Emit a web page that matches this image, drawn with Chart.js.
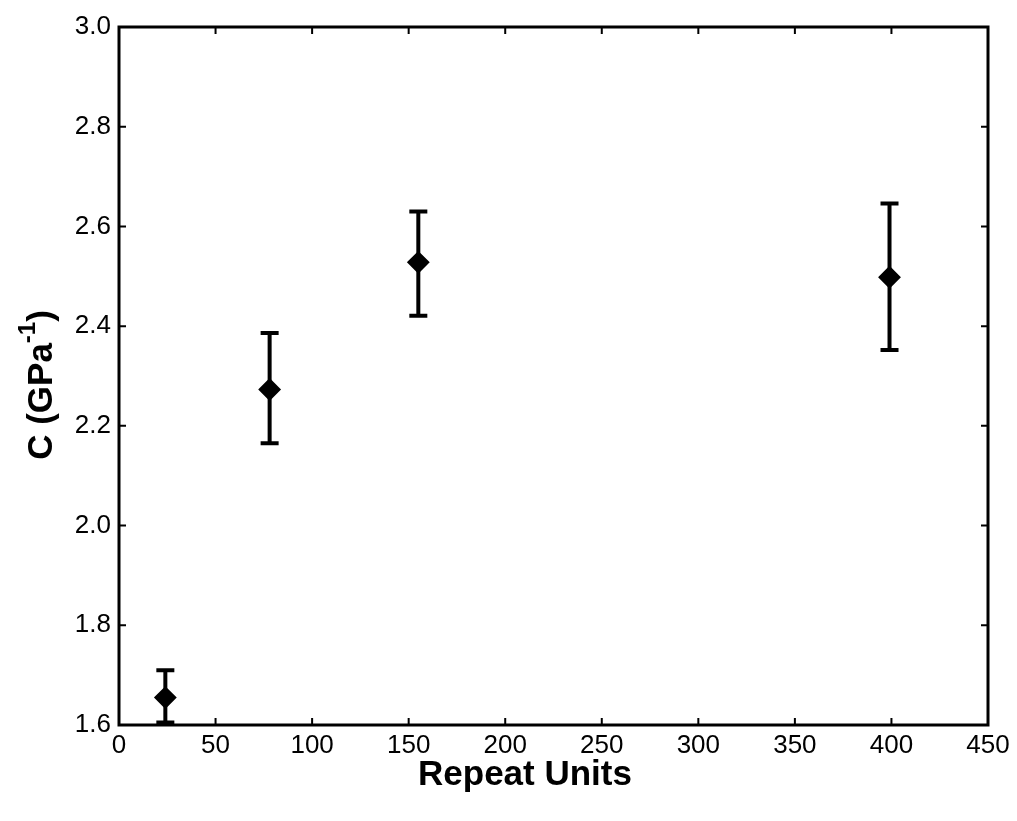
<!DOCTYPE html>
<html>
<head>
<meta charset="utf-8">
<script src="https://cdn.jsdelivr.net/npm/chart.js@4/dist/chart.umd.min.js"></script>
<style>
  html, body { margin: 0; padding: 0; background: #fff; }
  #wrap { width: 1017px; height: 821px; position: relative; }
</style>
</head>
<body>
<div id="wrap"><canvas id="chart"></canvas></div>
<script>
// values
const repeatUnits = [24, 78, 155, 399];
const compliance = [1.655, 2.273, 2.528, 2.498];
const errLow = [1.605, 2.165, 2.421, 2.352];
const errHigh = [1.71, 2.386, 2.63, 2.646];
const xTicks = [0, 50, 100, 150, 200, 250, 300, 350, 400, 450];
const yTicks = [1.6, 1.8, 2.0, 2.2, 2.4, 2.6, 2.8, 3.0];

const tickFont = { family: 'Arial, "Liberation Sans", sans-serif', size: 26 };

// error bars, a box and inward ticks on all four sides
const framePlugin = {
  id: 'frame',
  beforeDatasetsDraw(chart) {
    const ctx = chart.ctx;
    const x = chart.scales.x, y = chart.scales.y;
    ctx.save();
    ctx.strokeStyle = '#000';
    ctx.lineWidth = 4;
    ctx.lineCap = 'butt';
    repeatUnits.forEach((u, i) => {
      const px = x.getPixelForValue(u);
      const lo = y.getPixelForValue(errLow[i]);
      const hi = y.getPixelForValue(errHigh[i]);
      ctx.beginPath();
      ctx.moveTo(px, lo); ctx.lineTo(px, hi);
      ctx.moveTo(px - 9, lo); ctx.lineTo(px + 9, lo);
      ctx.moveTo(px - 9, hi); ctx.lineTo(px + 9, hi);
      ctx.stroke();
    });
    ctx.restore();
  },
  afterDraw(chart) {
    const ctx = chart.ctx;
    const a = chart.chartArea;
    const x = chart.scales.x, y = chart.scales.y;
    ctx.save();
    ctx.strokeStyle = '#000';
    ctx.lineWidth = 3;
    ctx.strokeRect(a.left, a.top, a.right - a.left, a.bottom - a.top);
    ctx.lineWidth = 2;
    const len = 7;
    ctx.beginPath();
    xTicks.forEach(v => {
      const px = x.getPixelForValue(v);
      ctx.moveTo(px, a.bottom); ctx.lineTo(px, a.bottom - len);
      ctx.moveTo(px, a.top); ctx.lineTo(px, a.top + len);
    });
    yTicks.forEach(v => {
      const py = y.getPixelForValue(v);
      ctx.moveTo(a.left, py); ctx.lineTo(a.left + len, py);
      ctx.moveTo(a.right, py); ctx.lineTo(a.right - len, py);
    });
    ctx.stroke();

    // axis titles
    ctx.fillStyle = '#000';
    ctx.font = 'bold 35px Arial, "Liberation Sans", sans-serif';
    ctx.textAlign = 'center';
    ctx.textBaseline = 'middle';
    ctx.fillText('Repeat Units', 525, 775);

    ctx.translate(42, 385);
    ctx.rotate(-Math.PI / 2);
    const big = 'bold 35px Arial, "Liberation Sans", sans-serif';
    const small = 'bold 24px Arial, "Liberation Sans", sans-serif';
    const parts = [
      { t: 'C (GPa', f: big, dy: 0 },
      { t: '-1', f: small, dy: -14 },
      { t: ')', f: big, dy: 0 }
    ];
    let total = 0;
    parts.forEach(p => { ctx.font = p.f; p.w = ctx.measureText(p.t).width; total += p.w; });
    let cx = -total / 2;
    ctx.textAlign = 'left';
    parts.forEach(p => {
      ctx.font = p.f;
      ctx.fillText(p.t, cx, p.dy);
      cx += p.w;
    });
    ctx.restore();
  }
};

new Chart(document.getElementById('chart'), {
  type: 'scatter',
  data: {
    datasets: [{
      data: repeatUnits.map((u, i) => ({ x: u, y: compliance[i] })),
      pointStyle: 'rectRot',
      pointRadius: 10,
      pointBackgroundColor: '#000',
      pointBorderColor: '#000',
      pointBorderWidth: 2
    }]
  },
  options: {
    responsive: true,
    maintainAspectRatio: false,
    animation: false,
    events: [],
    layout: { padding: { left: 0, top: 27, right: 29, bottom: 0 } },
    plugins: { legend: { display: false }, tooltip: { enabled: false } },
    scales: {
      x: {
        type: 'linear',
        min: 0, max: 450,
        afterBuildTicks: s => { s.ticks = xTicks.map(v => ({ value: v })); },
        afterFit: s => { s.height = 96; },
        grid: { display: false, drawTicks: false },
        border: { display: false },
        ticks: { color: '#000', font: tickFont, padding: 5, maxRotation: 0 }
      },
      y: {
        type: 'linear',
        min: 1.6, max: 3.0,
        afterBuildTicks: s => { s.ticks = yTicks.map(v => ({ value: v })); },
        afterFit: s => { s.width = 119; },
        grid: { display: false, drawTicks: false },
        border: { display: false },
        ticks: { color: '#000', font: tickFont, padding: 8, callback: v => v.toFixed(1) }
      }
    }
  },
  plugins: [framePlugin]
});
</script>
</body>
</html>
